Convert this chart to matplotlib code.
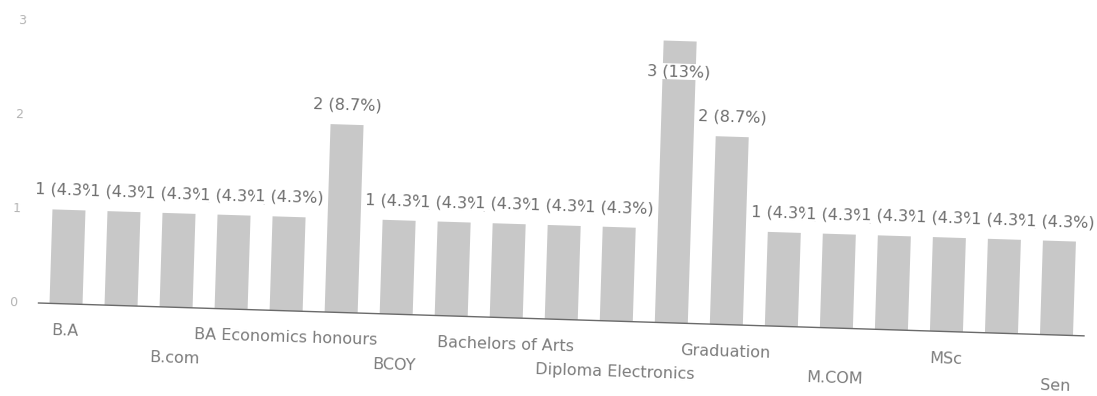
import matplotlib
matplotlib.use("Agg")
import matplotlib.pyplot as plt
from matplotlib import transforms

categories = ["B.A", "B.Sc", "B.com", "B.ed", "BA Economics honours", "BCA",
              "BCOY", "BSc", "Bachelors of Arts", "Diploma", "Diploma Electronics",
              "Graduate", "Graduation", "M.A", "M.COM", "MA", "MSc",
              "Post Graduation", "Sen"]
counts = [1, 1, 1, 1, 1, 2, 1, 1, 1, 1, 1, 3, 2, 1, 1, 1, 1, 1, 1]
y_ticks = [0, 1, 2, 3]

W, H = 1097, 396
fig = plt.figure(figsize=(W / 100, H / 100), dpi=100)
left_px, bottom_px = 38.5, 93
ax = fig.add_axes([left_px / W, bottom_px / H, 1046 / W, 282 / H])
ax.set_xlim(-0.5, len(categories) - 0.5)
ax.set_ylim(0, 3)
ax.axis("off")

ANG = -1.8
rot = transforms.Affine2D().rotate_deg_around(left_px, bottom_px, ANG)

total = sum(counts)
x = list(range(len(categories)))
bars = ax.bar(x, counts, width=0.6, color="#c8c8c8", zorder=1)
for b in bars:
    b.set_transform(ax.transData + rot)
    b.set_clip_on(False)

base, = ax.plot([-0.5, len(categories) - 0.5], [0, 0], color="#6a6a6a", lw=1.0, zorder=2)
base.set_transform(ax.transData + rot)
base.set_clip_on(False)


def rtext(xv, yv, s, dy_pt, dx_pt=0, **kw):
    tr = transforms.offset_copy(ax.transData, fig=fig, x=dx_pt, y=dy_pt, units="points") + rot
    t = ax.text(xv, yv, s, transform=tr, rotation=ANG, rotation_mode="anchor",
                clip_on=False, **kw)
    return t


vmax = max(counts)
for i, v in enumerate(counts):
    pct = 100 * v / total
    ps = f"{pct:.1f}%" if pct < 10 else f"{pct:.0f}%"
    lab = f"{v} ({ps})"
    dy = -22 if v == vmax else 14
    rtext(i, v, lab, dy, ha="center", va="center", fontsize=11.5, color="#6e6e6e",
          zorder=3 + i,
          bbox=dict(facecolor="white", edgecolor="none", pad=0.3))

for i, c in enumerate(categories):
    if i % 2 == 0:
        row = (i // 2) % 2
        dy = -19.5 if row == 0 else -36.5
        rtext(i, 0, c, dy, ha="center", va="center", fontsize=11.5, color="#7c7c7c")

for t in y_ticks:
    rtext(-0.5, t, str(t), 0, dx_pt=-18, ha="center", va="center", fontsize=9,
          color="#b4b4b4")

fig.savefig("out.png", dpi=100, facecolor="white")
